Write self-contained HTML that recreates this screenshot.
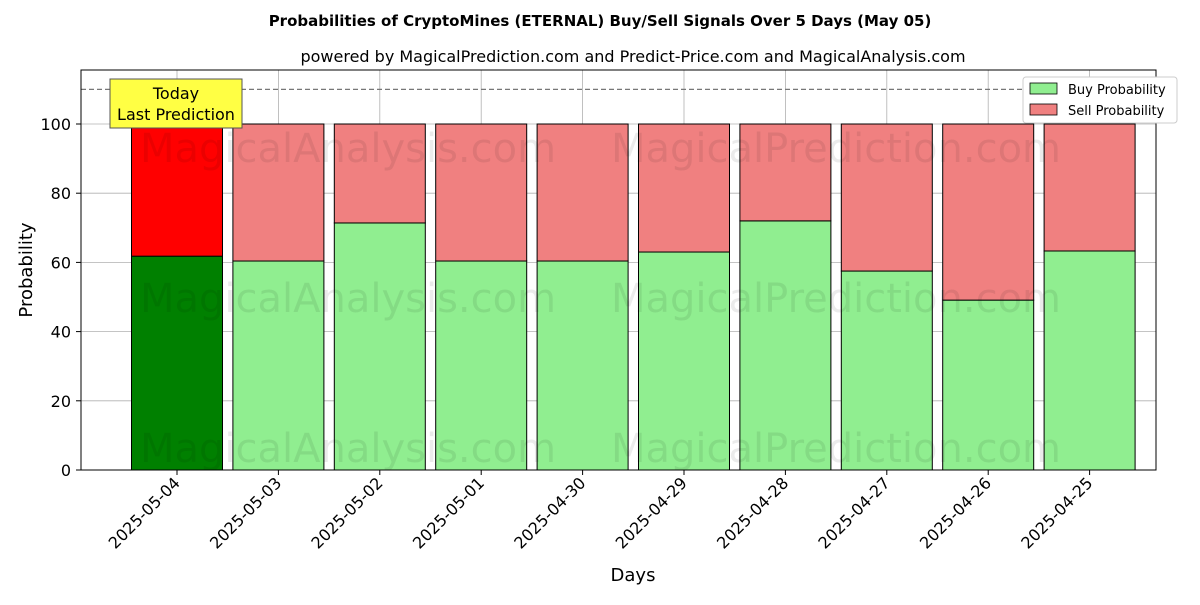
<!DOCTYPE html>
<html><head><meta charset="utf-8"><style>
body{margin:0;background:#fff;font-family:"Liberation Sans","DejaVu Sans",sans-serif}
svg text{font-family:"DejaVu Sans","Liberation Sans",sans-serif}
</style></head><body>
<svg id="chart" width="1200" height="600" viewBox="0 0 1200 600" xmlns="http://www.w3.org/2000/svg">
<rect width="1200" height="600" fill="#fff"/>
<text x="600" y="26" text-anchor="middle" font-size="15" font-weight="bold">Probabilities of CryptoMines (ETERNAL) Buy/Sell Signals Over 5 Days (May 05)</text>
<text x="633" y="62" text-anchor="middle" font-size="16">powered by MagicalPrediction.com and Predict-Price.com and MagicalAnalysis.com</text>
<g id="grid"></g>
<g id="bars"></g>
<g id="wm" fill="#000" fill-opacity="0.08" font-size="40">
<text x="348" y="162" text-anchor="middle">MagicalAnalysis.com</text>
<text x="836" y="162" text-anchor="middle">MagicalPrediction.com</text>
<text x="348" y="312" text-anchor="middle">MagicalAnalysis.com</text>
<text x="836" y="312" text-anchor="middle">MagicalPrediction.com</text>
<text x="348" y="462" text-anchor="middle">MagicalAnalysis.com</text>
<text x="836" y="462" text-anchor="middle">MagicalPrediction.com</text>
</g>
<line x1="81" x2="1156" y1="89.4" y2="89.4" stroke="#777" stroke-dasharray="5,3" stroke-width="1.2"/>
<rect x="81" y="70" width="1075" height="400" fill="none" stroke="#000" stroke-width="1"/>
<g id="axes"></g>
<g>
<rect x="110" y="79" width="132" height="49" fill="#ffff44" stroke="#555"/>
<text x="176" y="99" text-anchor="middle" font-size="16">Today</text>
<text x="176" y="120" text-anchor="middle" font-size="16">Last Prediction</text>
</g>
<g>
<rect x="1023" y="77" width="154" height="46" fill="#fff" stroke="#ccc" rx="3"/>
<rect x="1030" y="83" width="27" height="11" fill="lightgreen" stroke="#000" stroke-width="0.8"/>
<text x="1068" y="94" font-size="13">Buy Probability</text>
<rect x="1030" y="104" width="27" height="11" fill="lightcoral" stroke="#000" stroke-width="0.8"/>
<text x="1068" y="115" font-size="13">Sell Probability</text>
</g>
<text x="633" y="581" text-anchor="middle" font-size="18">Days</text>
<text transform="translate(32,270) rotate(-90)" text-anchor="middle" font-size="18">Probability</text>
</svg>
<script>
const categories=["2025-05-04","2025-05-03","2025-05-02","2025-05-01","2025-04-30","2025-04-29","2025-04-28","2025-04-27","2025-04-26","2025-04-25"];
const buyValues=[61.8,60.4,71.4,60.4,60.4,63.0,72.0,57.5,49.1,63.3];
const sellValues=buyValues.map(v=>100-v);
const yTicks=[0,20,40,60,80,100];
const NS="http://www.w3.org/2000/svg";
const y=v=>470-v*3.46;
const x=i=>177+i*101.4;
const bw=91;
function mk(tag,attrs,parent){const e=document.createElementNS(NS,tag);for(const k in attrs)e.setAttribute(k,attrs[k]);parent.appendChild(e);return e;}
const grid=document.getElementById('grid'),bars=document.getElementById('bars'),axes=document.getElementById('axes');
yTicks.forEach(t=>{
 const g=mk('line',{x1:81,x2:1156,y1:y(t),y2:y(t),stroke:'#b0b0b0','stroke-width':0.8},grid);
 
 
 const tk=mk('line',{x1:76,x2:81,y1:y(t),y2:y(t),stroke:'#000'},axes);
 
 
 const tx=mk('text',{x:71,y:y(t)+6,'text-anchor':'end','font-size':16},axes);
 tx.textContent=t;
 
 
});
categories.forEach((c,i)=>{
 const gl=mk('line',{x1:x(i),x2:x(i),y1:70,y2:470,stroke:'#b0b0b0','stroke-width':0.8},grid);
 
 
 const b=mk('rect',{x:x(i)-bw/2,y:y(buyValues[i]),width:bw,height:y(0)-y(buyValues[i]),fill:i==0?'green':'lightgreen',stroke:'#000','stroke-width':1},bars);
 
 
 const s=mk('rect',{x:x(i)-bw/2,y:y(buyValues[i]+sellValues[i]),width:bw,height:y(buyValues[i])-y(buyValues[i]+sellValues[i]),fill:i==0?'red':'lightcoral',stroke:'#000','stroke-width':1},bars);
 
 
 const tk=mk('line',{x1:x(i),x2:x(i),y1:470,y2:475,stroke:'#000'},axes);
 
 
 const tx=mk('text',{x:x(i)+4,y:484,'text-anchor':'end','font-size':16,transform:`rotate(-45 ${x(i)+4} 484)`},axes);
 tx.textContent=c;
 
 
});
</script>
</body></html>
